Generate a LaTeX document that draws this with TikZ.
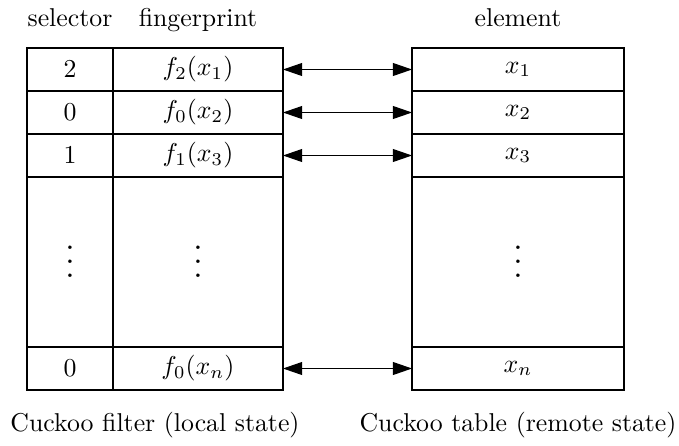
\documentclass[tikz,border=0pt]{standalone}
\usetikzlibrary{arrows.meta}
% one drawing unit
\def\u{0.3876pt}
% three spaced dots for the elided rows
\newcommand{\rowdots}{\vbox{\fontsize{14pt}{5.4pt}\selectfont\lineskiplimit=0pt\hbox{.}\hbox{.}\hbox{.}}}
\begin{document}
\begin{tikzpicture}[x=\u,y=-\u,
  cell/.style={draw, line width=0.4pt, inner sep=0pt, outer sep=0pt, minimum height=43*\u},
  selcell/.style={cell, minimum width=86*\u},
  fpcell/.style={cell, minimum width=170*\u},
  elcell/.style={cell, minimum width=212*\u},
  tall/.style={minimum height=170*\u},
  frame/.style={draw, line width=0.8pt},
  heading/.style={anchor=base, inner sep=0pt},
  link/.style={{Triangle[length=7.4pt,width=5pt]}-{Triangle[length=7.4pt,width=5pt]}, line width=0.4pt}]
\useasboundingbox (0,0) rectangle (679,445);

% column headings
\node[heading] (hsel) at (70,26) {selector};
\node[heading] (hfp) at (198,26) {fingerprint};
\node[heading] (hel) at (518,26) {element};

% local filter
\node[selcell] (s1) at (70,69.5) {$2$};
\node[fpcell]  (f1) at (198,69.5) {$f_2(x_1)$};
\node[selcell] (s2) at (70,112.5) {$0$};
\node[fpcell]  (f2) at (198,112.5) {$f_0(x_2)$};
\node[selcell] (s3) at (70,155.5) {$1$};
\node[fpcell]  (f3) at (198,155.5) {$f_1(x_3)$};
\node[selcell,tall] (s4) at (70,262) {\rowdots};
\node[fpcell,tall]  (f4) at (198,262) {\rowdots};
\node[selcell] (s5) at (70,368.5) {$0$};
\node[fpcell]  (f5) at (198,368.5) {$f_0(x_n)$};
\draw[frame] (s1.north west) rectangle (f5.south east);

% remote table
\node[elcell] (e1) at (518,69.5) {$x_1$};
\node[elcell] (e2) at (518,112.5) {$x_2$};
\node[elcell] (e3) at (518,155.5) {$x_3$};
\node[elcell,tall] (e4) at (518,262) {\rowdots};
\node[elcell] (e5) at (518,368.5) {$x_n$};
\draw[frame] (e1.north west) rectangle (e5.south east);

% correspondences
\draw[link] (f1.east) -- (e1.west);
\draw[link] (f2.east) -- (e2.west);
\draw[link] (f3.east) -- (e3.west);
\draw[link] (f5.east) -- (e5.west);

% captions
\node[heading] (cl) at (155,431) {Cuckoo filter (local state)};
\node[heading] (cr) at (518,431) {Cuckoo table (remote state)};
\end{tikzpicture}
\end{document}
